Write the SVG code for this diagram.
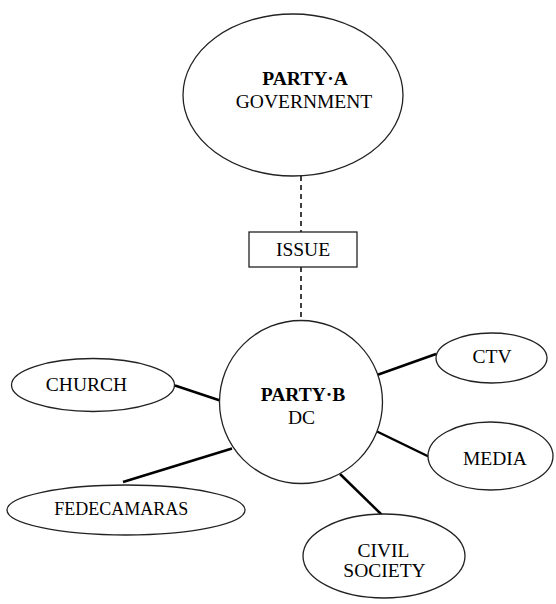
<svg xmlns="http://www.w3.org/2000/svg" width="556" height="604" viewBox="0 0 556 604">
<style>
.sh{fill:#fff;stroke:#222;stroke-width:1.3}
.t{font-family:"Liberation Serif","Times New Roman",serif;font-size:19.5px;fill:#000;text-anchor:middle}
.b{font-weight:bold}
.ln{stroke:#000;stroke-width:2.5;fill:none}
.ds{stroke:#000;stroke-width:1.5;stroke-dasharray:5 4;fill:none}
</style>
<rect width="556" height="604" fill="#fff"/>
<g id="connectors">
<line class="ds" x1="301" y1="176" x2="301" y2="232"/>
<line class="ds" x1="301" y1="267" x2="301" y2="321"/>
<line class="ln" x1="175" y1="385.5" x2="220" y2="400.5"/>
<line class="ln" x1="232" y1="448.5" x2="123" y2="482"/>
<line class="ln" x1="377" y1="375" x2="436" y2="354"/>
<line class="ln" x1="377" y1="431.5" x2="428.5" y2="456.5"/>
<line class="ln" x1="340" y1="474" x2="382" y2="515"/>
</g>
<g id="partyA">
<ellipse class="sh" cx="293" cy="95" rx="110" ry="81"/>
<text class="t b" x="305" y="85">PARTY·A</text>
<text class="t" x="304" y="108">GOVERNMENT</text>
</g>
<g id="issue">
<rect class="sh" x="249" y="232" width="108" height="35"/>
<text class="t" x="303" y="256">ISSUE</text>
</g>
<g id="partyB">
<circle class="sh" cx="301" cy="402" r="81.5"/>
<text class="t b" x="303" y="401">PARTY·B</text>
<text class="t" x="301.5" y="424">DC</text>
</g>
<g id="church">
<ellipse class="sh" cx="93" cy="385" rx="81.5" ry="26.5"/>
<text class="t" x="86.5" y="391">CHURCH</text>
</g>
<g id="fedecamaras">
<ellipse class="sh" cx="126" cy="510" rx="119" ry="25"/>
<text class="t" x="121.3" y="514.5" textLength="134" lengthAdjust="spacingAndGlyphs">FEDECAMARAS</text>
</g>
<g id="ctv">
<ellipse class="sh" cx="491.5" cy="358" rx="55.5" ry="25"/>
<text class="t" x="492" y="363">CTV</text>
</g>
<g id="media">
<ellipse class="sh" cx="490.5" cy="456" rx="62.5" ry="34"/>
<text class="t" x="495" y="465">MEDIA</text>
</g>
<g id="civil">
<ellipse class="sh" cx="384" cy="556" rx="81" ry="42"/>
<text class="t" x="383.5" y="557">CIVIL</text>
<text class="t" x="384.5" y="577">SOCIETY</text>
</g>
</svg>
